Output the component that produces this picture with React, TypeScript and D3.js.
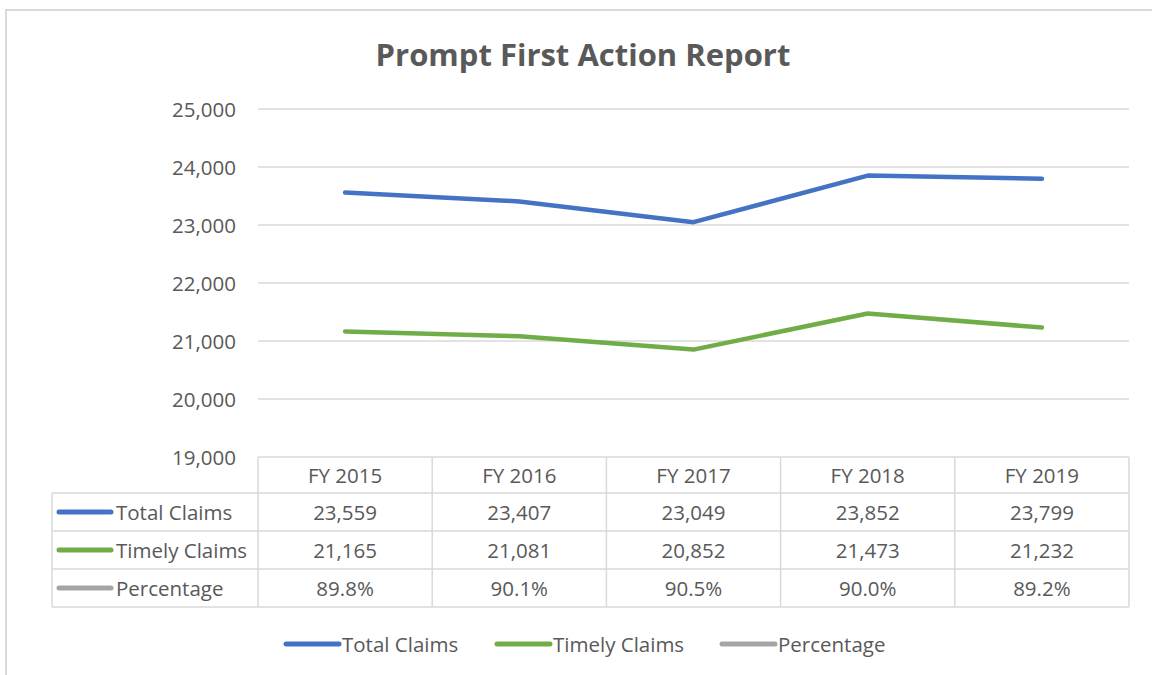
import React from "react";
import * as d3 from "d3";

const categories = ["FY 2015", "FY 2016", "FY 2017", "FY 2018", "FY 2019"];
const totalClaims = [23559, 23407, 23049, 23852, 23799];
const timelyClaims = [21165, 21081, 20852, 21473, 21232];
const percentage = [89.8, 90.1, 90.5, 90.0, 89.2];
const yTicks = [19000, 20000, 21000, 22000, 23000, 24000, 25000];
const seriesNames = ["Total Claims", "Timely Claims", "Percentage"];
const seriesColors = ["#4472C4", "#70AD47", "#A5A5A5"];

const W = 1152, H = 675;
const FONT = "'Open Sans', sans-serif";
const TXT = "#595959";
const FS = 20.5;

export default function App() {
  const x0 = 258, x1 = 1129;
  const x = d3.scaleBand().domain(categories).range([x0, x1]);
  const y = d3.scaleLinear().domain([19000, 25000]).range([457, 109]);
  const line = d3
    .line<number>()
    .x((_, i) => (x(categories[i]) as number) + x.bandwidth() / 2)
    .y((d) => y(d));

  const fmt = d3.format(",");
  const rows = [
    totalClaims.map(fmt),
    timelyClaims.map(fmt),
    percentage.map((p) => p.toFixed(1) + "%"),
  ];
  const headerTop = 457, headerBot = 493;
  const rowH = 38;
  const tableLeft = 52;
  const grid = "#D9D9D9";

  const legendItems = [
    { x: 286, name: seriesNames[0], color: seriesColors[0] },
    { x: 497, name: seriesNames[1], color: seriesColors[1] },
    { x: 722, name: seriesNames[2], color: seriesColors[2] },
  ];

  return (
    <svg width={W} height={H} style={{ position: "absolute", left: 0, top: 0, background: "#fff" }}>
      <rect x={6} y={10} width={1200} height={700} fill="#fff" stroke="#D9D9D9" strokeWidth={2} />
      <text x={583} y={66} textAnchor="middle" fontFamily={FONT} fontWeight="bold" fontSize={31} fill={TXT}>
        Prompt First Action Report
      </text>
      {yTicks.map((t) => (
        <g key={t}>
          {t > 19000 && <line x1={x0} x2={x1} y1={y(t)} y2={y(t)} stroke={grid} strokeWidth={1.5} />}
          <text x={236} y={y(t) + 8} textAnchor="end" fontFamily={FONT} fontSize={FS} fill={TXT}>
            {fmt(t)}
          </text>
        </g>
      ))}
      {/* table */}
      <g stroke={grid} strokeWidth={1.5} fill="none">
        <line x1={x0} x2={x1} y1={headerTop} y2={headerTop} />
        {[0, 1, 2, 3].map((i) => (
          <line key={i} x1={tableLeft} x2={x1} y1={headerBot + i * rowH} y2={headerBot + i * rowH} />
        ))}
        <line x1={tableLeft} x2={tableLeft} y1={headerBot} y2={headerBot + 3 * rowH} />
        {categories.map((c) => (
          <line key={c} x1={x(c) as number} x2={x(c) as number} y1={headerTop} y2={headerBot + 3 * rowH} />
        ))}
        <line x1={x1} x2={x1} y1={headerTop} y2={headerBot + 3 * rowH} />
      </g>
      {categories.map((c) => (
        <text key={c} x={(x(c) as number) + x.bandwidth() / 2} y={headerTop + 26} textAnchor="middle" fontFamily={FONT} fontSize={FS} fill={TXT}>
          {c}
        </text>
      ))}
      {rows.map((r, ri) => (
        <g key={ri}>
          <line x1={59} x2={111} y1={headerBot + ri * rowH + 19} y2={headerBot + ri * rowH + 19} stroke={seriesColors[ri]} strokeWidth={5} strokeLinecap="round" />
          <text x={116} y={headerBot + ri * rowH + 27} fontFamily={FONT} fontSize={FS} fill={TXT}>
            {seriesNames[ri]}
          </text>
          {r.map((v, ci) => (
            <text key={ci} x={(x(categories[ci]) as number) + x.bandwidth() / 2} y={headerBot + ri * rowH + 27} textAnchor="middle" fontFamily={FONT} fontSize={FS} fill={TXT}>
              {v}
            </text>
          ))}
        </g>
      ))}
      <path d={line(totalClaims) as string} fill="none" stroke={seriesColors[0]} strokeWidth={4.5} strokeLinejoin="round" strokeLinecap="round" />
      <path d={line(timelyClaims) as string} fill="none" stroke={seriesColors[1]} strokeWidth={4.5} strokeLinejoin="round" strokeLinecap="round" />
      {legendItems.map((l) => (
        <g key={l.name}>
          <line x1={l.x} x2={l.x + 53} y1={644} y2={644} stroke={l.color} strokeWidth={5} strokeLinecap="round" />
          <text x={l.x + 56} y={652} fontFamily={FONT} fontSize={FS} fill={TXT}>
            {l.name}
          </text>
        </g>
      ))}
    </svg>
  );
}
